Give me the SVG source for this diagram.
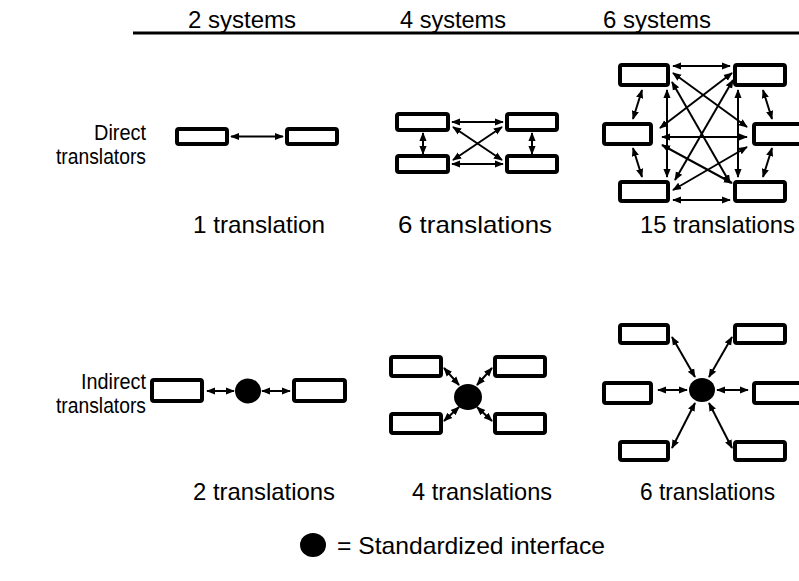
<svg xmlns="http://www.w3.org/2000/svg" width="799" height="581" viewBox="0 0 799 581">
  <style>
    text { font-family: "Liberation Sans", Arial, sans-serif; font-size: 24px; fill: #000; }
    .lbl { font-size: 22px; }
    .sys { fill: #fff; stroke: #000; stroke-width: 4; }
    .hub { fill: #000; }
    .link { stroke: #000; stroke-width: 2; fill: none; marker-start: url(#tip); marker-end: url(#tip); }
  </style>
  <defs>
    <marker id="tip" viewBox="0 0 10 10" refX="9" refY="5" markerWidth="4.5" markerHeight="4.5" orient="auto-start-reverse" markerUnits="strokeWidth">
      <path d="M0,1 L10,5 L0,9 z" fill="#000"/>
    </marker>
  </defs>

  <!-- column headings -->
  <g id="headings">
    <text x="188" y="28" textLength="108" lengthAdjust="spacingAndGlyphs">2 systems</text>
    <text x="400" y="28" textLength="106" lengthAdjust="spacingAndGlyphs">4 systems</text>
    <text x="603" y="28" textLength="108" lengthAdjust="spacingAndGlyphs">6 systems</text>
    <line x1="133" y1="33" x2="799" y2="33" stroke="#000" stroke-width="3"/>
  </g>

  <!-- row labels -->
  <g id="row-direct">
    <text class="lbl" x="94" y="140" textLength="52" lengthAdjust="spacingAndGlyphs">Direct</text>
    <text class="lbl" x="56" y="164" textLength="90" lengthAdjust="spacingAndGlyphs">translators</text>
  </g>
  <g id="row-indirect">
    <text class="lbl" x="81" y="389" textLength="65" lengthAdjust="spacingAndGlyphs">Indirect</text>
    <text class="lbl" x="56" y="413" textLength="90" lengthAdjust="spacingAndGlyphs">translators</text>
  </g>

  <!-- direct: 2 systems -->
  <g id="d2">
    <rect class="sys" x="177" y="129" width="50" height="15" rx="2"/>
    <rect class="sys" x="287" y="129" width="50" height="15" rx="2"/>
  </g>
  <!-- direct: 4 systems -->
  <g id="d4">
    <rect class="sys" x="397" y="114" width="51" height="16" rx="2"/>
    <rect class="sys" x="507" y="114" width="50" height="16" rx="2"/>
    <rect class="sys" x="397" y="156" width="51" height="16" rx="2"/>
    <rect class="sys" x="507" y="156" width="50" height="16" rx="2"/>
  </g>
  <!-- direct: 6 systems -->
  <g id="d6">
    <rect class="sys" x="620" y="65" width="48" height="20" rx="2"/>
    <rect class="sys" x="735" y="65" width="50" height="20" rx="2"/>
    <rect class="sys" x="604" y="124" width="47" height="20" rx="2"/>
    <rect class="sys" x="754" y="124" width="50" height="20" rx="2"/>
    <rect class="sys" x="620" y="182" width="48" height="19" rx="2"/>
    <rect class="sys" x="735" y="182" width="50" height="19" rx="2"/>
  </g>

  <!-- indirect: 2 systems -->
  <g id="i2">
    <rect class="sys" x="152" y="380" width="50" height="21" rx="2"/>
    <rect class="sys" x="294" y="380" width="51" height="21" rx="2"/>
    <ellipse class="hub" cx="248" cy="391" rx="13" ry="12.5"/>
  </g>
  <!-- indirect: 4 systems -->
  <g id="i4">
    <rect class="sys" x="391" y="357" width="50" height="19" rx="2"/>
    <rect class="sys" x="495" y="357" width="50" height="19" rx="2"/>
    <rect class="sys" x="391" y="414" width="50" height="19" rx="2"/>
    <rect class="sys" x="495" y="414" width="50" height="19" rx="2"/>
    <ellipse class="hub" cx="468" cy="397" rx="14" ry="13"/>
  </g>
  <!-- indirect: 6 systems -->
  <g id="i6">
    <rect class="sys" x="620" y="325" width="48" height="18" rx="2"/>
    <rect class="sys" x="735" y="325" width="50" height="18" rx="2"/>
    <rect class="sys" x="604" y="383" width="47" height="20" rx="2"/>
    <rect class="sys" x="754" y="383" width="50" height="20" rx="2"/>
    <rect class="sys" x="620" y="442" width="48" height="18" rx="2"/>
    <rect class="sys" x="735" y="442" width="50" height="18" rx="2"/>
    <ellipse class="hub" cx="702" cy="390" rx="13" ry="12"/>
  </g>

  <!-- connectors -->
  <g id="connectors">
    <!-- d2 -->
    <line class="link" x1="231" y1="136.5" x2="283" y2="136.5"/>
    <!-- d4 -->
    <line class="link" x1="452" y1="122" x2="503" y2="122"/>
    <line class="link" x1="452" y1="164" x2="503" y2="164"/>
    <line class="link" x1="423" y1="133" x2="423" y2="154"/>
    <line class="link" x1="532" y1="133" x2="532" y2="154"/>
    <line class="link" x1="453" y1="127" x2="502" y2="160"/>
    <line class="link" x1="453" y1="160" x2="502" y2="127"/>
    <!-- d6 -->
    <line class="link" x1="673" y1="66" x2="730" y2="66"/>
    <line class="link" x1="673" y1="200" x2="730" y2="200"/>
    <line class="link" x1="662" y1="137" x2="747" y2="137"/>
    <line class="link" x1="667" y1="90" x2="667" y2="177"/>
    <line class="link" x1="738" y1="90" x2="738" y2="177"/>
    <line class="link" x1="642" y1="90" x2="633" y2="119"/>
    <line class="link" x1="633" y1="148" x2="642" y2="177"/>
    <line class="link" x1="763" y1="90" x2="772" y2="119"/>
    <line class="link" x1="772" y1="148" x2="763" y2="177"/>
    <line class="link" x1="673" y1="73" x2="747" y2="127"/>
    <line class="link" x1="672" y1="82" x2="730" y2="183"/>
    <line class="link" x1="732" y1="73" x2="660" y2="128"/>
    <line class="link" x1="733" y1="80" x2="675" y2="180"/>
    <line class="link" x1="662" y1="145" x2="732" y2="183"/>
    <line class="link" x1="747" y1="147" x2="673" y2="190"/>
    <!-- i2 -->
    <line class="link" x1="207" y1="391" x2="234" y2="391"/>
    <line class="link" x1="262" y1="391" x2="290" y2="391"/>
    <!-- i4 -->
    <line class="link" x1="444" y1="368" x2="459" y2="385"/>
    <line class="link" x1="492" y1="368" x2="477" y2="385"/>
    <line class="link" x1="444" y1="421" x2="459" y2="407"/>
    <line class="link" x1="492" y1="421" x2="477" y2="407"/>
    <!-- i6 -->
    <line class="link" x1="672" y1="337" x2="695" y2="377"/>
    <line class="link" x1="732" y1="337" x2="709" y2="377"/>
    <line class="link" x1="658" y1="390" x2="687" y2="390"/>
    <line class="link" x1="717" y1="390" x2="748" y2="390"/>
    <line class="link" x1="695" y1="403" x2="672" y2="448"/>
    <line class="link" x1="709" y1="403" x2="732" y2="448"/>
  </g>

  <!-- counts -->
  <g id="counts">
    <text x="193" y="233" textLength="132" lengthAdjust="spacingAndGlyphs">1 translation</text>
    <text x="398" y="233" textLength="154" lengthAdjust="spacingAndGlyphs">6 translations</text>
    <text x="640" y="233" textLength="155" lengthAdjust="spacingAndGlyphs">15 translations</text>
    <text x="193" y="500" textLength="142" lengthAdjust="spacingAndGlyphs">2 translations</text>
    <text x="412" y="500" textLength="140" lengthAdjust="spacingAndGlyphs">4 translations</text>
    <text x="640" y="500" textLength="135" lengthAdjust="spacingAndGlyphs">6 translations</text>
  </g>

  <!-- legend -->
  <g id="legend">
    <ellipse class="hub" cx="313" cy="545" rx="13" ry="12"/>
    <text x="337" y="554" textLength="268" lengthAdjust="spacingAndGlyphs">= Standardized interface</text>
  </g>
</svg>
